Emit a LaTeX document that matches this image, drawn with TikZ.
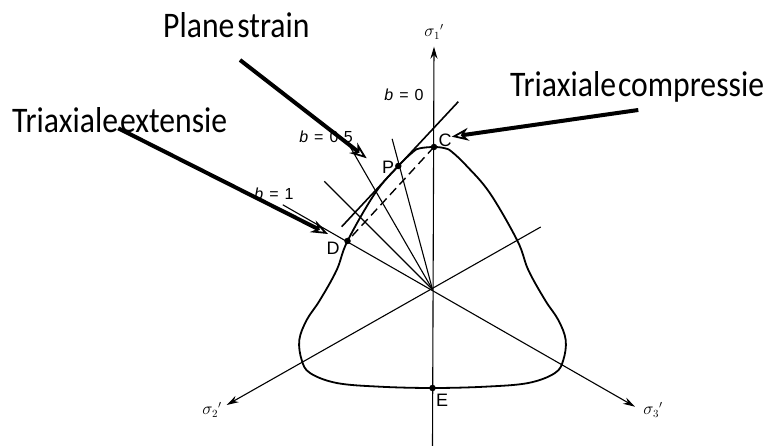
\documentclass[tikz,border=0pt]{standalone}
\usepackage{fontspec}
\newfontfamily\bigfont[FakeStretch=0.88]{Carlito}
\newfontfamily\labsans{Liberation Sans}
\usetikzlibrary{arrows.meta}
\begin{document}
\begin{tikzpicture}[x=1pt,y=1pt,
 axis/.style={line width=1.1pt},
 axarrow/.style={axis,-{Stealth[length=12pt,width=7pt]}},
 radial/.style={line width=1.1pt},
 bigarrow/.style={line width=4pt,-{Stealth[open,length=17pt,width=13pt,line width=1.8pt]}},
 biglabel/.style={font=\bigfont\fontsize{36}{36}\selectfont, inner sep=0, anchor=base west},
 blabel/.style={font=\labsans\fontsize{16}{16}\selectfont, inner sep=0},
 ptlabel/.style={font=\labsans\fontsize{18}{18}\selectfont, inner sep=0},
 siglabel/.style={font=\fontsize{16}{16}\selectfont, inner sep=0},
 dot/.style={circle,fill,inner sep=0,minimum size=6.5pt}
]
\useasboundingbox (0,0) rectangle (769,446);
\fill[white] (0,0) rectangle (769,446);
% key points
\coordinate (O) at (432.5,156.5);
\coordinate (C) at (434,299);
\coordinate (P) at (398.3,280);
\coordinate (D) at (347.5,205);
\coordinate (E) at (432.5,58);
% axes
\coordinate (S1) at (434,399.3);
\coordinate (Sbot) at (432.5,0);
\coordinate (S2) at (226.7,41);
\coordinate (S2b) at ([shift={(O)}]30:125);
\coordinate (S3) at (635,39.3);
\coordinate (L60) at ([shift={(O)}]150.5:172);
\coordinate (L15) at ([shift={(O)}]105:156);
\coordinate (L30) at ([shift={(O)}]120:168);
\coordinate (L45) at ([shift={(O)}]135:153);
\draw[axarrow] (Sbot) -- (S1);
\draw[axarrow] (S2b) -- (S2);
\draw[axarrow] (L60) -- (S3);
\draw[radial] (O) -- (L15);
\draw[radial] (O) -- (L30);
\draw[radial] (O) -- (L45);
% tangent and dashed chord
\coordinate (T1) at (458.3,344.3);
\coordinate (T2) at (341.7,219.3);
\draw[line width=1.6pt] (T1) -- (T2);
\draw[line width=1.4pt, dash pattern=on 9pt off 5pt] (C) -- (D);
% yield curve
\draw[line width=1.8pt] plot[smooth cycle, tension=0.6] coordinates {
 (434,299) (420,297.7) (413.3,294.3) (398.3,280) (375,252.7) (347.5,205)
 (336.7,176) (320,146) (306.7,126) (299.3,106) (301.7,86) (310,73)
 (336.7,63) (380,59.3) (432.5,58) (485,59.3) (528.3,63) (555,73)
 (563.3,86) (565.7,106) (558.3,126) (545,146) (528.3,176) (517.5,205)
 (490,252.7) (466.7,280) (451.7,294.3) (445,297.7)};
% dots
\node[dot] (Cd) at (C) {};
\node[dot] (Pd) at (P) {};
\node[dot] (Dd) at (D) {};
\node[dot] (Ed) at (E) {};
% point labels
\node[ptlabel] (Cl) at (445,306) {C};
\node[ptlabel] (Pl) at (388,279) {P};
\node[ptlabel] (Dl) at (333,198) {D};
\node[ptlabel] (El) at (442,46) {E};
% axis labels
\node[siglabel] (s1l) at (434,414) {$\sigma_1{}'$};
\node[siglabel] (s2l) at (212,36) {$\sigma_2{}'$};
\node[siglabel] (s3l) at (653,36) {$\sigma_3{}'$};
% b labels
\node[blabel] (b0) at (404,351) {{\itshape b}\hspace{6pt}=\hspace{6pt}0};
\node[blabel] (b05) at (326,309) {{\itshape b}\hspace{6pt}=\hspace{6pt}0·5};
\node[blabel] (b1) at (274,252) {{\itshape b}\hspace{6pt}=\hspace{6pt}1};
% big labels and arrows
\node[biglabel] (ps) at (163,408) {Plane\hspace{3pt}strain};
\node[biglabel] (te) at (12,313) {Triaxiale\hspace{2pt}extensie};
\node[biglabel] (tc) at (510,349.5) {Triaxiale\hspace{2pt}compressie};
\coordinate (psA) at (240,386);
\coordinate (psB) at (366.7,287.7);
\coordinate (tcA) at (638.3,336);
\coordinate (tcB) at (451.7,309.3);
\coordinate (teA) at (118.3,317.7);
\coordinate (teB) at (328,212);
\draw[bigarrow] (psA) -- (psB);
\draw[bigarrow] (tcA) -- (tcB);
\draw[bigarrow] (teA) -- (teB);
\end{tikzpicture}
\end{document}
